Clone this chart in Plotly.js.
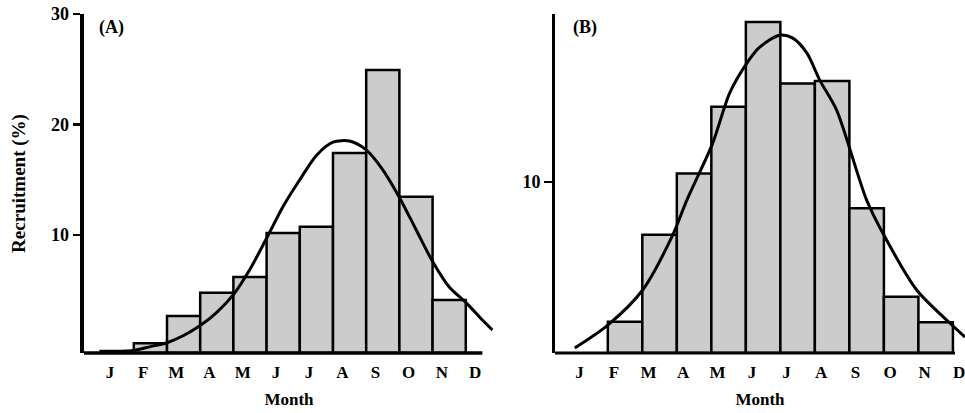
<!DOCTYPE html>
<html>
<head>
<meta charset="utf-8">
<script src="https://cdn.plot.ly/plotly-3.0.1.min.js"></script>
<style>html,body{margin:0;padding:0;background:#fff;}#chart{width:965px;height:413px;}</style>
</head>
<body>
<div id="chart"></div>
<script>
// ---- Data ----
const monthLabels = ['J','F','M','A','M','J','J','A','S','O','N','D'];
const monthIndex  = [0,1,2,3,4,5,6,7,8,9,10,11];

// Panel A: monthly recruitment (%)
const recruitA = [-0.5, 0.2, 2.67, 4.78, 6.2, 10.18, 10.75, 17.42, 24.93, 13.47, 4.12, null];
// Panel A: fitted curve
const curveAx = [-0.2, 0.5, 1.0, 1.5, 2.0, 2.5, 3.0, 3.5, 4.0, 4.5, 5.0, 5.5, 6.0, 6.5, 7.0, 7.5, 8.0, 8.5, 9.0, 9.5, 10.0, 10.5, 11.0, 11.3];
const curveAy = [-0.6, -0.45, -0.1, 0.25, 0.9, 1.8, 3.0, 4.6, 6.9, 9.7, 12.6, 15.0, 17.2, 18.4, 18.5, 17.7, 15.9, 13.4, 10.5, 7.6, 5.3, 3.9, 2.3, 1.4];

// Panel B: monthly recruitment (%)
const recruitB = [null, 1.83, 6.9, 10.49, 14.38, 19.34, 15.74, 15.88, 8.45, 3.29, 1.8, null];
// Panel B: fitted curve
const curveBx = [-0.46, 0.50, 1.51, 2.38, 2.79, 3.54, 4.03, 4.53, 4.90, 5.48, 5.86, 6.27, 6.64, 7.13, 8.00, 8.53, 9.45, 10.41, 10.85];
const curveBy = [0.29, 1.63, 3.68, 6.89, 8.93, 12.26, 15.18, 16.93, 17.86, 18.56, 18.39, 17.51, 15.94, 14.19, 8.93, 6.77, 3.68, 1.75, 0.93];

const yTicksA = [10, 20, 30];
const yTicksB = [10];

// ---- Layout constants ----
const W = 965, H = 413;
const YMIN_A = -0.68, YMAX_A = 30;
const YMIN_B = 0, YMAX_B = 19.8;
const LABEL_SHIFT_A = -0.22;
const LABEL_SHIFT_B = -0.32;
const FAMILY = 'Liberation Serif, Times New Roman, serif';
const fnt = s => ({family: FAMILY, size: s, color: '#000', weight: 'bold'});
const BAR_FILL = '#cccccc';

const yDom = [(H - 353) / H, (H - 14) / H];
const xDomA = [84 / W, 494 / W];
const xDomB = [555 / W, 965 / W];

const traces = [
  {
    type: 'bar', xaxis: 'x', yaxis: 'y',
    x: monthIndex,
    y: recruitA.map(v => v === null ? null : v - YMIN_A),
    base: YMIN_A,
    width: 1,
    marker: {color: BAR_FILL, line: {color: '#000', width: 2.5}},
    hoverinfo: 'skip', showlegend: false
  },
  {
    type: 'scatter', mode: 'lines', xaxis: 'x', yaxis: 'y',
    x: curveAx, y: curveAy,
    line: {color: '#000', width: 3, shape: 'spline', smoothing: 0.8},
    showlegend: false
  },
  {
    type: 'bar', xaxis: 'x2', yaxis: 'y2',
    x: monthIndex,
    y: recruitB,
    width: 1,
    marker: {color: BAR_FILL, line: {color: '#000', width: 2.5}},
    hoverinfo: 'skip', showlegend: false
  },
  {
    type: 'scatter', mode: 'lines', xaxis: 'x2', yaxis: 'y2',
    x: curveBx, y: curveBy,
    line: {color: '#000', width: 3, shape: 'spline', smoothing: 0.8},
    showlegend: false
  }
];

const xCommon = {
  showgrid: false, zeroline: false, showline: false,
  tickmode: 'array', ticktext: monthLabels,
  ticks: 'outside', ticklen: 4, tickcolor: 'rgba(0,0,0,0)',
  tickfont: fnt(17), fixedrange: true, ticklabeloverflow: 'allow'
};

const layout = {
  width: W, height: H,
  margin: {l: 0, r: 0, t: 0, b: 0, pad: 0},
  paper_bgcolor: '#fff', plot_bgcolor: 'rgba(0,0,0,0)',
  bargap: 0, barmode: 'overlay',
  font: fnt(17),
  showlegend: false,
  xaxis: Object.assign({}, xCommon, {
    domain: xDomA, anchor: 'y', range: [-1, 11.35],
    tickvals: monthIndex.map(i => i + LABEL_SHIFT_A),
    title: {text: 'Month', font: fnt(17), standoff: 11}
  }),
  yaxis: {
    domain: yDom, anchor: 'x', range: [YMIN_A, YMAX_A],
    showgrid: false, zeroline: false,
    showline: true, linecolor: '#000', linewidth: 4.5,
    ticks: 'outside', ticklen: 7, tickwidth: 2.5, tickcolor: '#000',
    tickmode: 'array', tickvals: yTicksA, ticktext: yTicksA.map(String),
    tickfont: fnt(18), automargin: false,
    title: {text: 'Recruitment (%)', font: fnt(19), standoff: 22}
  },
  xaxis2: Object.assign({}, xCommon, {
    domain: xDomB, anchor: 'y2', range: [-1.03, 10.85],
    tickvals: monthIndex.map(i => i + LABEL_SHIFT_B),
    title: {text: 'Month', font: fnt(17), standoff: 11}
  }),
  yaxis2: {
    domain: yDom, anchor: 'x2', range: [YMIN_B, YMAX_B],
    showgrid: false, zeroline: false,
    showline: true, linecolor: '#000', linewidth: 3,
    ticks: 'outside', ticklen: 8, tickwidth: 2, tickcolor: '#000',
    tickmode: 'array', tickvals: yTicksB, ticktext: yTicksB.map(String),
    tickfont: fnt(18), automargin: false
  },
  shapes: [
    {type: 'line', xref: 'x', yref: 'y domain', x0: -1, x1: 11, y0: 0, y1: 0,
     line: {color: '#000', width: 3.5}, layer: 'above'},
    {type: 'line', xref: 'x2', yref: 'y2 domain', x0: -1.03, x1: 10.56, y0: 0, y1: 0,
     line: {color: '#000', width: 3}, layer: 'above'}
  ],
  annotations: [
    {text: '(A)', xref: 'paper', yref: 'paper', x: 111 / W, y: (H - 27) / H,
     showarrow: false, font: fnt(18), xanchor: 'center', yanchor: 'middle'},
    {text: '(B)', xref: 'paper', yref: 'paper', x: 585 / W, y: (H - 27) / H,
     showarrow: false, font: fnt(18), xanchor: 'center', yanchor: 'middle'}
  ]
};

Plotly.newPlot('chart', traces, layout, {staticPlot: true, displayModeBar: false});
</script>
</body>
</html>
